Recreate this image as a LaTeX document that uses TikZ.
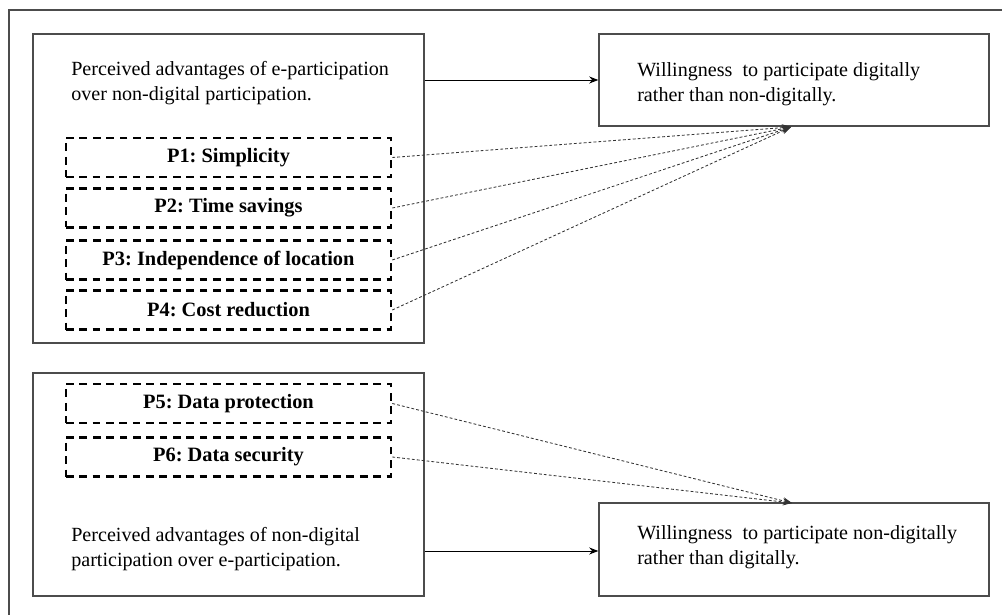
\documentclass[tikz,border=0pt]{standalone}
\usepackage{fontspec}
\setmainfont{Liberation Serif}
\usetikzlibrary{arrows.meta}

\tikzset{
    frame/.style={draw=black!70, line width=0.9pt, rectangle, inner sep=0pt},
    factor/.style={draw=black, line width=1.8pt, dash pattern=on 5.5pt off 4pt,
        minimum width=8.125cm, minimum height=0.975cm, inner sep=0pt,
        font=\frenchspacing\bfseries\fontsize{14.5}{16}\selectfont},
    txt/.style={anchor=west, align=left, inner sep=0pt,
        font=\fontsize{14.3}{17.8}\selectfont},
    link/.style={draw=black!80, line width=0.6pt, dash pattern=on 2pt off 1.5pt,
        -{Stealth[length=6.5pt,width=5pt]}},
    flow/.style={draw=black, line width=0.7pt, -{Stealth[length=6.5pt,width=5pt]}}
}

\begin{document}
\begin{tikzpicture}[x=0.025cm, y=-0.025cm]
    \useasboundingbox (0,0) rectangle (1002,615);
    \draw[black!70, line width=1pt] (9,615) -- (9,10) -- (1002,10);

    % boxes
    \node[frame, minimum width=9.775cm, minimum height=7.725cm] (advDig) at (228.5,188.5) {};
    \node[frame, minimum width=9.775cm, minimum height=5.575cm] (advNon) at (228.5,484.5) {};
    \node[frame, minimum width=9.75cm, minimum height=2.3cm] (willDig) at (794,80) {};
    \node[frame, minimum width=9.75cm, minimum height=2.325cm] (willNon) at (794,549.5) {};

    \node[txt] (advDigText) at (71,83) {Perceived advantages of e-participation\\over non-digital participation.};
    \node[txt] (advNonText) at (71,549) {Perceived advantages of non-digital\\participation over e-participation.};
    \node[txt] (willDigText) at (637,84) {Willingness\ \ to participate digitally\\rather than non-digitally.};
    \node[txt] (willNonText) at (637,547) {Willingness\ \ to participate non-digitally\\rather than digitally.};

    \coordinate (hubDig) at (791,127);
    \coordinate (hubNon) at (792,503);

    % factors
    \foreach \n/\y/\t in {1/157.5/Simplicity, 2/208/Time savings,
                          3/260/Independence of location, 4/310/Cost reduction} {
        \node[factor] (p\n) at (228.5,\y) {P\n: \t};
        \draw[link] (p\n.east) -- (hubDig);
    }
    \foreach \n/\y/\t in {5/403.5/Data protection, 6/457/Data security} {
        \node[factor] (p\n) at (228.5,\y) {P\n: \t};
        \draw[link] (p\n.east) -- (hubNon);
    }

    \draw[flow] (advDig.east |- willDig.west) -- (willDig.west);
    \draw[flow] (advNon.east |- 0,551) -- (willNon.west |- 0,551);
\end{tikzpicture}
\end{document}
